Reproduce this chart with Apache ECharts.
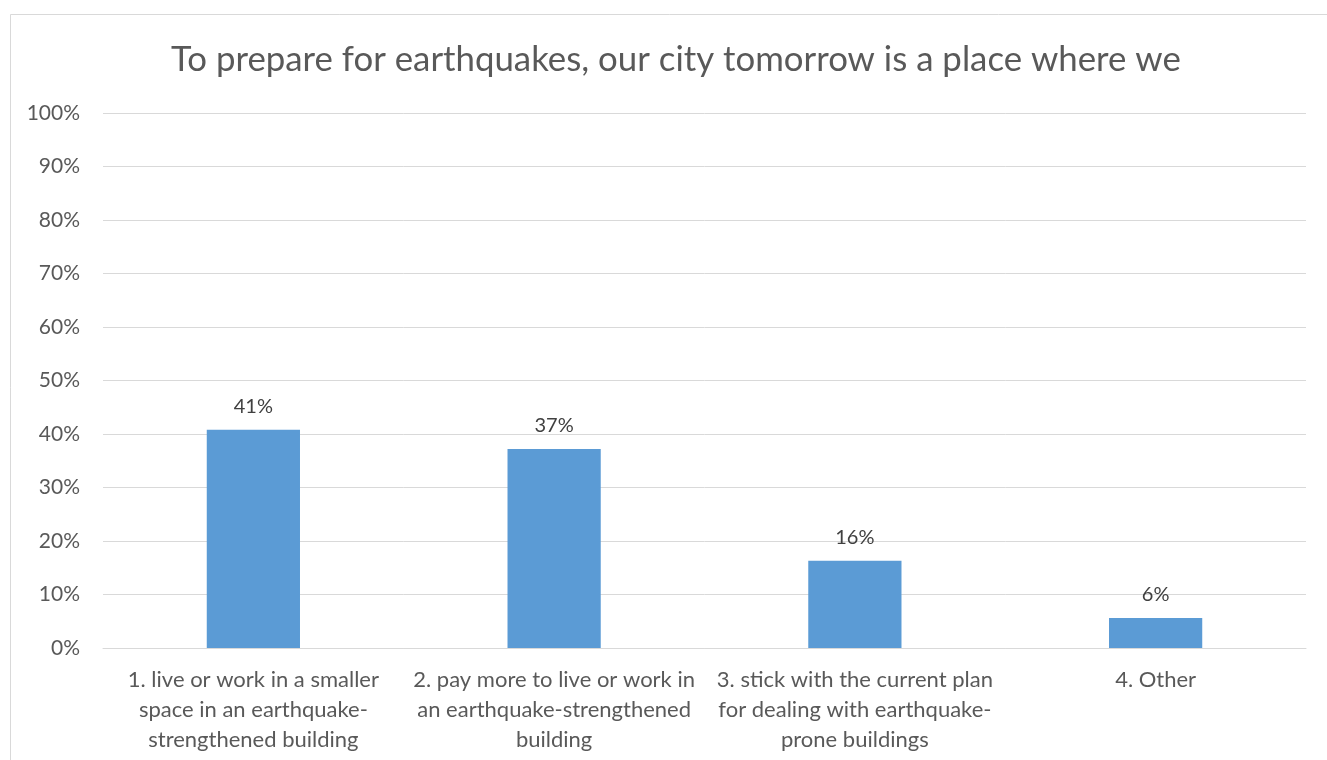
<!DOCTYPE html>
<html>
<head>
<meta charset="utf-8">
<script src="https://cdn.jsdelivr.net/npm/echarts@6/dist/echarts.min.js"></script>
<style>html,body{margin:0;padding:0;background:#fff;}#c{width:1327px;height:760px;}</style>
</head>
<body>
<div id="c"></div>
<script>
const titleText = "To prepare for earthquakes, our city tomorrow is a place where we";
const categories = [
  "1. live or work in a smaller\nspace in an earthquake-\nstrengthened building",
  "2. pay more to live or work in\nan earthquake-strengthened\nbuilding",
  "3. stick with the current plan\nfor dealing with earthquake-\nprone buildings",
  "4. Other"
];
const values = [0.408, 0.372, 0.163, 0.056];
const yMin = 0, yMax = 1, yStep = 0.1;

const FONT = "Lato";
const chart = echarts.init(document.getElementById('c'), null, {renderer: 'canvas'});
chart.setOption({
  animation: false,
  backgroundColor: '#fff',
  graphic: [{
    type: 'rect', silent: true,
    shape: {x: 10.5, y: 14.5, width: 1330, height: 760},
    style: {fill: 'none', stroke: '#d9d9d9', lineWidth: 1}
  }],
  title: {
    text: titleText, left: 166, top: 37,
    textStyle: {fontFamily: FONT, fontSize: 34.8, fontWeight: 'normal', color: '#595959'}
  },
  grid: {left: 103, right: 21, top: 113, bottom: 112, containLabel: false},
  xAxis: {
    type: 'category', data: categories,
    axisLine: {show: true, lineStyle: {color: '#d9d9d9', width: 1}},
    axisTick: {show: false},
    axisLabel: {fontFamily: FONT, fontSize: 22, color: '#595959', lineHeight: 30, margin: 17, interval: 0}
  },
  yAxis: {
    type: 'value', min: yMin, max: yMax, interval: yStep,
    axisLine: {show: false}, axisTick: {show: false},
    splitLine: {lineStyle: {color: '#d9d9d9', width: 1}},
    axisLabel: {fontFamily: FONT, fontSize: 21, color: '#595959', margin: 23,
      formatter: v => Math.round(v * 100) + '%'}
  },
  series: [{
    type: 'bar', data: values, barWidth: '31%',
    itemStyle: {color: '#5b9bd5'},
    label: {show: true, position: 'top', distance: 13, fontFamily: FONT, fontSize: 20, color: '#404040',
      formatter: p => Math.round(p.value * 100) + '%'}
  }]
});
</script>
</body>
</html>
